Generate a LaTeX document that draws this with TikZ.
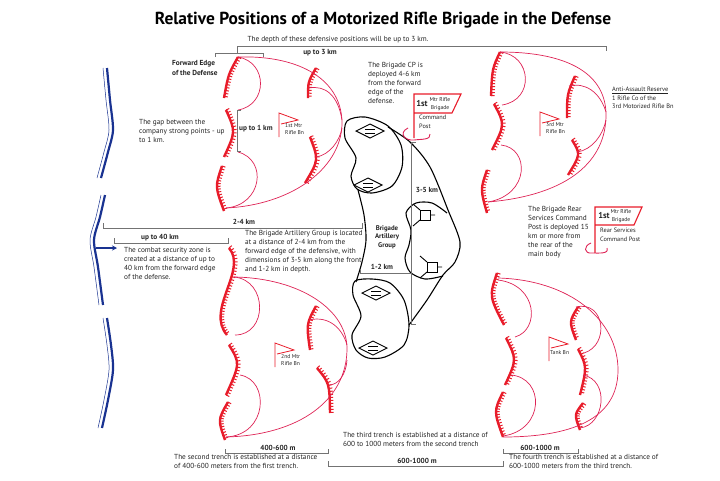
\documentclass[tikz,border=0pt]{standalone}
\usepackage{fontspec}
\setmainfont{PT Sans}
\usetikzlibrary{decorations.pathreplacing,arrows.meta}

\definecolor{trenchred}{RGB}{232,28,42}
\definecolor{linered}{RGB}{222,35,85}
\definecolor{frontblue}{RGB}{25,50,145}
\definecolor{dimgray}{RGB}{115,115,115}
\definecolor{textgray}{RGB}{35,35,35}

\tikzset{
  trench/.style={draw=trenchred, line width=2.4pt,
    postaction={draw=trenchred, line width=1pt, decorate,
      decoration={ticks, segment length=3pt, amplitude=1.8pt, raise=1.8pt}}},
  spline/.style={draw=linered, line width=0.7pt},
  front/.style={draw=frontblue, line width=2.2pt},
  frontthin/.style={draw=frontblue, line width=0.5pt, xshift=-4pt},
  dim/.style={draw=dimgray, line width=0.8pt},
  artline/.style={draw=black, line width=1.1pt},
  note/.style={font=\fontsize{7.3}{9}\selectfont, text=textgray, align=left, inner sep=0pt, anchor=north west},
  dimlabel/.style={font=\fontsize{7.3}{9}\selectfont\bfseries, text=textgray, inner sep=0pt},
  tinytext/.style={font=\fontsize{5.6}{7.5}\selectfont, text=textgray, align=left, inner sep=0pt, anchor=north west},
  bnflag/.pic={
    \draw[draw=trenchred, line width=0.8pt] (0,24) -- (0,0) -- (19,7) -- (2,11);
  },
  battery/.pic={
    \draw[line width=0.9pt] (-14,0) -- (0,-7) -- (14,0) -- (0,7) -- cycle;
    \draw[line width=0.9pt] (-5,-2) -- (5,-2) (-5,2) -- (5,2);
  },
  gun/.pic={
    \draw[line width=0.9pt] (0,-5) rectangle (10,5);
    \draw[line width=0.9pt] (10,0) -- (15,0) (0,-5) -- (-7,-11) (0,5) -- (-7,11);
  },
}

\begin{document}
\begin{tikzpicture}[x=1pt, y=-1pt]
  \useasboundingbox (0,0) rectangle (720,480);

  % Title
  \node[font=\fontsize{17.4}{20}\selectfont\bfseries] (title) at (383,20)
    {Relative Positions of a Motorized Rifle Brigade in the Defense};

  % Forward line of the enemy side
  \foreach \seg in {{(107,68) (110,100) (113,130) (108,152) (101,178)},
                    {(105,195) (100,217) (94,240) (98,267) (103,305)},
                    {(107,318) (111,345) (113,370) (108,400) (102,428)}} {
    \draw[front] plot[smooth] coordinates \seg;
    \draw[frontthin] plot[smooth] coordinates \seg;
  }
  \coordinate (arrowtail) at (96,248);
  \coordinate (arrowhead) at (117,248);
  \draw[frontblue, line width=1.4pt, -{Stealth[length=5pt,width=5pt]}] (arrowtail) -- (arrowhead);

  % 1st Mtr Rifle Bn
  \draw[trench] (238,57) .. controls (228.3,74.2) .. (224,98);
  \draw[trench] (226,110) .. controls (235.7,131.5) .. (224,157);
  \draw[trench] (222,166) .. controls (215,186.5) .. (224,211);
  \draw[trench] (316,68) .. controls (308,81.7) .. (308,98);
  \draw[trench] (310,137) .. controls (318.8,160) .. (305,183);
  \draw[spline] (238,57) .. controls (268,62) and (268,105) .. (238,110);
  \draw[spline] (238,152) .. controls (268,160) and (262,205) .. (226,208);
  \draw[spline] (238,57) .. controls (300,55) and (343,80) .. (342,125)
                         .. controls (340,170) and (290,205) .. (226,208);
  \draw[spline] (309,88) .. controls (325,85) and (338,95) .. (342,120);
  \draw[spline] (316,157) .. controls (330,155) and (340,140) .. (342,128);
  \pic at (279,113) {bnflag};
  \node[tinytext] (bn1) at (285,123) {1st Mtr\\Rifle Bn};

  % 3rd Mtr Rifle Bn
  \draw[trench] (500,52) .. controls (492.2,68.7) .. (491,96);
  \draw[trench] (494,104) .. controls (505,124.3) .. (492,150);
  \draw[trench] (487,170) .. controls (480.3,189.5) .. (487,213);
  \draw[trench] (575,76) .. controls (567,94.3) .. (567,118);
  \draw[trench] (572,140) .. controls (580.7,154.2) .. (568,175);
  \draw[spline] (500,52) .. controls (532,55) and (535,100) .. (502,105);
  \draw[spline] (501,145) .. controls (530,148) and (530,195) .. (488,202);
  \draw[spline] (500,52) .. controls (570,52) and (606,75) .. (606,115)
                         .. controls (606,160) and (570,195) .. (488,202);
  \draw[spline] (569,86) .. controls (585,82) and (600,92) .. (606,112);
  \draw[spline] (577,152) .. controls (592,150) and (603,135) .. (606,120);
  \pic at (540,112) {bnflag};
  \node[tinytext] (bn3) at (546,122) {3rd Mtr\\Rifle Bn};

  % 2nd Mtr Rifle Bn
  \draw[trench] (229,248) .. controls (248,270) and (205,310) .. (227,335);
  \draw[trench] (229,345) .. controls (240.2,363.3) .. (226,395);
  \draw[trench] (228,402) .. controls (217.8,419.7) .. (225,440);
  \draw[trench] (316,306) .. controls (306.3,324) .. (310,350);
  \draw[trench] (317,368) .. controls (329.5,383.2) .. (330,413);
  \draw[spline] (234,277) .. controls (268,280) and (268,335) .. (235,335);
  \draw[spline] (240,375) .. controls (270,380) and (268,435) .. (226,437);
  \draw[spline] (234,277) .. controls (300,278) and (348,310) .. (347,350)
                          .. controls (346,400) and (300,435) .. (226,437);
  \draw[spline] (309,320) .. controls (330,315) and (343,330) .. (347,345);
  \draw[spline] (329,385) .. controls (338,385) and (346,375) .. (347,360);
  \pic at (275,343) {bnflag};
  \node[tinytext] (bn2) at (281,354) {2nd Mtr\\Rifle Bn};

  % Tank Bn
  \draw[trench] (497,273) .. controls (489.2,296.3) .. (504,325);
  \draw[trench] (506,338) .. controls (516.8,359.5) .. (505,385);
  \draw[trench] (503,392) .. controls (493.7,411.2) .. (503,437);
  \draw[trench] (578,307) .. controls (569,321.5) .. (576,340);
  \draw[trench] (578,349) .. controls (587,366.7) .. (580,395);
  \draw[trench] (583,403) .. controls (574.2,414.5) .. (580,430);
  \draw[spline] (498,280) .. controls (538,285) and (540,330) .. (515,337);
  \draw[spline] (511,375) .. controls (545,378) and (545,430) .. (503,436);
  \draw[spline] (498,278) .. controls (570,280) and (618,320) .. (618,370)
                          .. controls (618,420) and (570,437) .. (503,437);
  \draw[spline] (576,307) .. controls (605,300) and (610,345) .. (584,353);
  \draw[spline] (583,375) .. controls (610,380) and (605,425) .. (580,428);
  \pic at (549,337) {bnflag};
  \node[tinytext] (bntank) at (550,350) {Tank Bn};

  % Brigade Artillery Group
  \draw[artline] plot[smooth cycle] coordinates {(347,121) (365,117) (388,126) (401,145)
    (402,167) (392,186) (372,193) (357,189) (351,176) (356,158) (345,138)};
  \draw[artline] plot[smooth] coordinates {(388,127) (410,142) (430,167) (448,210)
    (460,242) (455,262) (443,275) (427,300) (409,325)};
  \draw[artline] plot[smooth] coordinates {(358,190) (364,215) (366,240) (362,262) (356,282)};
  \draw[artline] plot[smooth cycle] coordinates {(355,281) (372,279) (390,283) (404,300)
    (409,325) (404,345) (385,357) (368,358) (356,350) (352,335) (361,316) (353,295)};
  \draw[artline] plot[smooth] coordinates {(447,213) (432,203) (416,203) (406,213) (411,230)
    (409,245) (405,258) (410,272) (425,279) (443,276)};
  \foreach \p in {(370,131), (368,185), (376,293), (373,348)}
    \pic at \p {battery};
  \pic at (420,215) {gun};
  \pic at (427,267) {gun};
  \draw[dim] (416,142) -- (411,142) -- (411,324) -- (416,324);
  \draw[dim] (360,269) -- (360,273) -- (412,273);
  \node[dimlabel] (depth35) at (427,190) {3-5 km};
  \node[dimlabel] (depth12) at (382,267) {1-2 km};
  \node[dimlabel, align=center, font=\fontsize{6.8}{8.5}\selectfont\bfseries] (artgroup) at (387,237)
    {Brigade\\Artillery\\Group};

  % Command posts
  \draw[trenchred, line width=1.1pt] (414,138) -- (414,94) -- (461,94) -- (452,113) -- (414,113);
  \draw[spline, line width=0.9pt] (408,128) .. controls (398,133) and (405,141) .. (414,140)
                   .. controls (422,139) and (431,140) .. (430,134);
  \node[dimlabel, font=\fontsize{8.5}{9}\selectfont\bfseries] (cpfirst) at (422,104) {1st};
  \node[tinytext, anchor=center, align=center] (cpname) at (440,104) {Mtr Rifle\\Brigade};
  \node[tinytext, font=\fontsize{6.3}{8.5}\selectfont] (cplabel) at (419,115) {Command\\Post};

  \draw[trenchred, line width=1.1pt] (595,253) -- (595,207) -- (642,207) -- (634,225) -- (595,225);
  \draw[spline, line width=0.9pt] (591,243) .. controls (583,246) and (584,254) .. (592,253)
                   .. controls (600,253) and (609,254) .. (607,248);
  \node[dimlabel, font=\fontsize{8.5}{9}\selectfont\bfseries] (rsfirst) at (604,216) {1st};
  \node[tinytext, anchor=center, align=center] (rsname) at (621,216) {Mtr Rifle\\Brigade};
  \node[tinytext, font=\fontsize{6.3}{8.5}\selectfont] (rslabel) at (600,228) {Rear Services\\Command Post};

  % Dimension brackets
  \draw[dim] (237,53) -- (237,46) -- (606,46) -- (606,51);
  \draw[dim] (215,57) -- (215,53) -- (263,53) -- (263,57);
  \draw[dim] (241,110) -- (237,110) -- (237,151) -- (241,151);
  \draw[dim] (103,223) -- (103,228) -- (362,228) -- (362,223);
  \draw[dim] (114,238) -- (114,243) -- (228,243) -- (228,238);
  \draw[dim] (225,449) -- (225,453) -- (328,453) -- (328,449);
  \draw[dim] (328,461) -- (328,466) -- (503,466) -- (503,461);
  \draw[dim] (503,449) -- (503,453) -- (578,453) -- (578,449);
  \node[dimlabel] (upto3) at (320,53) {up to 3 km};
  \node[dimlabel, anchor=west] (upto1) at (239,129) {up to 1 km};
  \node[dimlabel] (dist24) at (244,222) {2-4 km};
  \node[dimlabel] (upto40) at (160,238) {up to 40 km};
  \node[dimlabel] (m400) at (278,448) {400-600 m};
  \node[dimlabel] (m600a) at (417,461) {600-1000 m};
  \node[dimlabel] (m600b) at (540,448) {600-1000 m};

  % Notes
  \node[note, anchor=center] (depthnote) at (338,40)
    {The depth of these defensive positions will be up to 3 km.};
  \node[note, font=\fontsize{7.3}{10}\selectfont\bfseries] (fwdedge) at (172,60.5)
    {Forward Edge\\of the Defense};
  \node[note] (gapnote) at (139,119.5)
    {The gap between the\\company strong points - up\\to 1 km.};
  \node[note] (cpnote) at (368,62.5)
    {The Brigade CP is\\deployed 4-6 km\\from the forward\\edge of the\\defense.};
  \node[note, font=\fontsize{6.4}{8.5}\selectfont] (reservenote) at (612,87)
    {\underline{Anti-Assault Reserve}\\1 Rifle Co of the\\3rd Motorized Rifle Bn};
  \node[note] (rearnote) at (528,206.5)
    {The Brigade Rear\\Services Command\\Post is deployed 15\\km or more from\\the rear of the\\main body};
  \node[note] (artnote) at (245,230.5)
    {The Brigade Artillery Group is located\\at a distance of 2-4 km from the\\forward edge of the defensive, with\\dimensions of 3-5 km along the front\\and 1-2 km in depth.};
  \node[note] (securitynote) at (124,247.5)
    {The combat security zone is\\created at a distance of up to\\40 km from the forward edge\\of the defense.};
  \node[note] (trench2note) at (174,454.5)
    {The second trench is established at a distance\\of 400-600 meters from the first trench.};
  \node[note] (trench3note) at (343,432.5)
    {The third trench is established at a distance of\\600 to 1000 meters from the second trench};
  \node[note] (trench4note) at (509,454.5)
    {The fourth trench is established at a distance of\\600-1000 meters from the third trench.};
\end{tikzpicture}
\end{document}
